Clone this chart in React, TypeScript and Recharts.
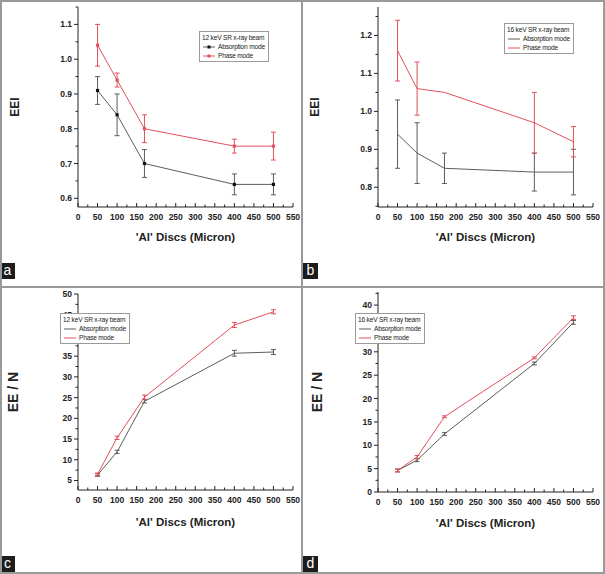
import { LineChart, Line, XAxis, YAxis, ErrorBar, Legend } from 'recharts';

// Al disc thickness (micron)
const discs = [50, 100, 170, 400, 500];

// (a) 12 keV EEI
const aAbs = [0.91, 0.84, 0.7, 0.64, 0.64];
const aAbsErr = [0.04, 0.06, 0.04, 0.03, 0.03];
const aPhase = [1.04, 0.94, 0.8, 0.75, 0.75];
const aPhaseErr = [0.06, 0.02, 0.04, 0.02, 0.04];

// (b) 16 keV EEI
const bAbs = [0.94, 0.89, 0.85, 0.84, 0.84];
const bAbsErr = [0.09, 0.08, 0.04, 0.05, 0.06];
const bPhase = [1.16, 1.06, 1.05, 0.97, 0.92];
const bPhaseErr = [0.08, 0.07, null, 0.08, 0.04];

// (c) 12 keV EE / N
const cAbs = [6.3, 11.9, 24.1, 35.7, 36.0];
const cAbsErr = [0.3, 0.4, 0.4, 0.7, 0.6];
const cPhase = [6.5, 15.3, 25.1, 42.5, 45.7];
const cPhaseErr = [0.3, 0.4, 0.5, 0.6, 0.5];

// (d) 16 keV EE / N
const dAbs = [4.6, 6.8, 12.4, 27.5, 36.3];
const dAbsErr = [0.3, 0.3, 0.3, 0.3, 0.4];
const dPhase = [4.6, 7.5, 16.1, 28.7, 37.3];
const dPhaseErr = [0.3, 0.3, 0.2, 0.2, 0.4];

const xTicks = [0, 25, 50, 75, 100, 125, 150, 175, 200, 225, 250, 275, 300, 325, 350, 375, 400, 425, 450, 475, 500, 525, 550];
const xLabels = [0, 50, 100, 150, 200, 250, 300, 350, 400, 450, 500, 550];

const aYTicks = [0.6, 0.65, 0.7, 0.75, 0.8, 0.85, 0.9, 0.95, 1.0, 1.05, 1.1, 1.15];
const aYLabels = [0.6, 0.7, 0.8, 0.9, 1.0, 1.1];
const bYTicks = [0.75, 0.8, 0.85, 0.9, 0.95, 1.0, 1.05, 1.1, 1.15, 1.2, 1.25];
const bYLabels = [0.8, 0.9, 1.0, 1.1, 1.2];
const cYTicks = [5, 7.5, 10, 12.5, 15, 17.5, 20, 22.5, 25, 27.5, 30, 32.5, 35, 37.5, 40, 42.5, 45, 47.5, 50];
const cYLabels = [5, 10, 15, 20, 25, 30, 35, 40, 45, 50];
const dYTicks = [0, 2.5, 5, 7.5, 10, 12.5, 15, 17.5, 20, 22.5, 25, 27.5, 30, 32.5, 35, 37.5, 40, 42.5];
const dYLabels = [0, 5, 10, 15, 20, 25, 30, 35, 40];

const FONT = 'Arial, "Liberation Sans", Helvetica, sans-serif';
const NARROW = '"Liberation Sans Narrow", "Liberation Sans", Arial, sans-serif';
const GRAY = '#5c5c5c';
const RED = '#e2505c';
const INK = '#222';

const build = (abs: number[], absErr: (number | null)[], ph: number[], phErr: (number | null)[]) =>
  discs.map((x, i) => ({ x, abs: abs[i], absErr: absErr[i], ph: ph[i], phErr: phErr[i] }));

const isIn = (list: number[], v: number) => list.some(l => Math.abs(l - v) < 1e-6);

const SquareDot = (color: string) => (props: any) => {
  const { cx, cy, index } = props;
  if (cx == null || cy == null) return <g key={index} />;
  return <rect key={index} x={cx - 1.6} y={cy - 1.6} width={3.2} height={3.2} fill={color} />;
};

interface PanelProps {
  data: any[];
  domain: [number, number];
  yTicks: number[];
  yLabels: number[];
  digits: number;
  yTitle: string;
  yTitleX: number;
  yTitleSize: number;
  beam: string;
  markers: boolean;
  margin: { top: number; right: number; bottom: number; left: number };
  legendPos: { left: number; top: number };
  width: number;
  height: number;
}

function Panel(p: PanelProps) {
  const XTick = ({ x, y, payload }: any) => {
    const major = isIn(xLabels, payload.value);
    return (
      <g>
        <line x1={x} x2={x} y1={y} y2={y - (major ? 4 : 2.5)} stroke={INK} />
        {major && (
          <text x={x} y={y + 13} textAnchor="middle" fontSize={8.5} fontWeight="bold" fontFamily={FONT} fill={INK}>
            {payload.value}
          </text>
        )}
      </g>
    );
  };
  const TopTick = ({ x, y, payload }: any) => {
    const major = isIn(xLabels, payload.value);
    return <line x1={x} x2={x} y1={y} y2={y + (major ? 4 : 2.5)} stroke={INK} />;
  };
  const YTick = ({ x, y, payload }: any) => {
    const major = isIn(p.yLabels, payload.value);
    return (
      <g>
        <line x1={x} x2={x - (major ? 4 : 2.5)} y1={y} y2={y} stroke={INK} />
        {major && (
          <text x={x - 6} y={y + 3} textAnchor="end" fontSize={8.5} fontWeight="bold" fontFamily={FONT} fill={INK}>
            {payload.value.toFixed(p.digits)}
          </text>
        )}
      </g>
    );
  };
  const RightTick = ({ x, y, payload }: any) => {
    const major = isIn(p.yLabels, payload.value);
    return <line x1={x} x2={x - (major ? 4 : 2.5)} y1={y} y2={y} stroke={INK} />;
  };

  const YTitle = (props: any) => {
    const vb = props.viewBox;
    const cy = vb.y + vb.height / 2;
    return (
      <text
        x={p.yTitleX}
        y={cy}
        transform={`rotate(-90 ${p.yTitleX} ${cy})`}
        textAnchor="middle"
        dominantBaseline="central"
        fontSize={p.yTitleSize}
        fontWeight="bold"
        fontFamily={FONT}
        fill={INK}
      >
        {p.yTitle}
      </text>
    );
  };

  const renderLegend = () => (
    <div
      style={{
        border: '1px solid #9a9a9a',
        background: '#fff',
        padding: '1px 3px 1px 2px',
        fontFamily: NARROW,
        fontSize: 6.6,
        letterSpacing: '-0.2px',
        lineHeight: '9px',
        color: INK,
        whiteSpace: 'nowrap',
      }}
    >
      <div>{p.beam}</div>
      {[
        { name: 'Absorption mode', color: GRAY },
        { name: 'Phase mode', color: RED },
      ].map(r => (
        <div key={r.name} style={{ display: 'flex', alignItems: 'center', height: 9 }}>
          <svg width={14} height={6} style={{ marginRight: 2 }}>
            <line x1={1} x2={13} y1={3} y2={3} stroke={r.color} strokeWidth={1} />
            {p.markers && <rect x={5.5} y={1.5} width={3} height={3} fill={r.name === 'Phase mode' ? RED : '#111'} />}
          </svg>
          <span>{r.name}</span>
        </div>
      ))}
    </div>
  );

  return (
    <LineChart width={p.width} height={p.height} data={p.data} margin={p.margin}>
      <XAxis
        dataKey="x"
        type="number"
        domain={[0, 550]}
        ticks={xTicks}
        interval={0}
        height={p.margin.bottom}
        tickSize={0}
        tickMargin={0}
        tickLine={false}
        axisLine={{ stroke: INK }}
        tick={<XTick />}
        label={{
          value: "'Al' Discs (Micron)",
          position: 'insideBottom',
          offset: 6,
          fontSize: 11.5,
          fontWeight: 'bold',
          fontFamily: FONT,
          fill: INK,
        }}
      />
      <XAxis
        xAxisId="top"
        orientation="top"
        dataKey="x"
        type="number"
        domain={[0, 550]}
        ticks={xTicks}
        interval={0}
        height={0}
        tickSize={0}
        tickMargin={0}
        tickLine={false}
        axisLine={{ stroke: INK }}
        tick={<TopTick />}
      />
      <YAxis
        type="number"
        domain={p.domain}
        ticks={p.yTicks}
        interval={0}
        allowDataOverflow
        width={p.margin.left}
        tickSize={0}
        tickMargin={0}
        tickLine={false}
        axisLine={{ stroke: INK }}
        tick={<YTick />}
        label={{ content: <YTitle /> }}
      />
      <YAxis
        yAxisId="right"
        orientation="right"
        type="number"
        domain={p.domain}
        ticks={p.yTicks}
        interval={0}
        allowDataOverflow
        width={0}
        tickSize={0}
        tickMargin={0}
        tickLine={false}
        axisLine={{ stroke: INK }}
        tick={<RightTick />}
      />
      <Legend
        layout="horizontal"
        verticalAlign="middle"
        align="center"
        content={renderLegend}
        wrapperStyle={{ position: 'absolute', left: p.legendPos.left, top: p.legendPos.top, width: 'auto' }}
      />
      <Line
        dataKey="abs"
        stroke={GRAY}
        strokeWidth={1}
        dot={p.markers ? SquareDot('#111') : false}
        activeDot={false}
        isAnimationActive={false}
      >
        <ErrorBar dataKey="absErr" width={2.5} stroke={GRAY} strokeWidth={1} direction="y" isAnimationActive={false} />
      </Line>
      <Line
        dataKey="ph"
        stroke={RED}
        strokeWidth={1}
        dot={p.markers ? SquareDot(RED) : false}
        activeDot={false}
        isAnimationActive={false}
      >
        <ErrorBar dataKey="phErr" width={2.5} stroke={RED} strokeWidth={1} direction="y" isAnimationActive={false} />
      </Line>
    </LineChart>
  );
}

const Tag = ({ letter, left, top }: { letter: string; left: number; top: number }) => (
  <div
    style={{
      position: 'absolute',
      left,
      top,
      width: 15,
      height: 16,
      background: '#1c1c1c',
      color: '#fff',
      fontFamily: FONT,
      fontSize: 14,
      lineHeight: '15px',
      textAlign: 'center',
    }}
  >
    {letter}
  </div>
);

export default function App() {
  const pos = (left: number, top: number): React.CSSProperties => ({ position: 'absolute', left, top });
  return (
    <div style={{ position: 'absolute', left: 0, top: 0, width: 605, height: 574, background: '#fff', overflow: 'hidden' }}>
      <div style={pos(0, 0)}>
        <Panel
          data={build(aAbs, aAbsErr, aPhase, aPhaseErr)}
          domain={[0.575, 1.15]}
          yTicks={aYTicks}
          yLabels={aYLabels}
          digits={1}
          yTitle="EEI"
          yTitleX={15}
          yTitleSize={12}
          beam="12 keV SR x-ray beam"
          markers
          margin={{ top: 7, right: 9, bottom: 40, left: 39 }}
          legendPos={{ left: 199, top: 31 }}
          width={302}
          height={287}
        />
      </div>
      <div style={pos(300, 0)}>
        <Panel
          data={build(bAbs, bAbsErr, bPhase, bPhaseErr)}
          domain={[0.748, 1.275]}
          yTicks={bYTicks}
          yLabels={bYLabels}
          digits={1}
          yTitle="EEI"
          yTitleX={15}
          yTitleSize={12}
          beam="16 keV SR x-ray beam"
          markers={false}
          margin={{ top: 7, right: 12, bottom: 40, left: 39 }}
          legendPos={{ left: 204, top: 23 }}
          width={305}
          height={287}
        />
      </div>
      <div style={pos(0, 285)}>
        <Panel
          data={build(cAbs, cAbsErr, cPhase, cPhaseErr)}
          domain={[2.7, 50]}
          yTicks={cYTicks}
          yLabels={cYLabels}
          digits={0}
          yTitle="EE / N"
          yTitleX={13}
          yTitleSize={14}
          beam="12 keV SR x-ray beam"
          markers={false}
          margin={{ top: 9, right: 9, bottom: 42, left: 39 }}
          legendPos={{ left: 60, top: 28 }}
          width={302}
          height={289}
        />
      </div>
      <div style={pos(300, 285)}>
        <Panel
          data={build(dAbs, dAbsErr, dPhase, dPhaseErr)}
          domain={[0, 42.8]}
          yTicks={dYTicks}
          yLabels={dYLabels}
          digits={0}
          yTitle="EE / N"
          yTitleX={17}
          yTitleSize={14}
          beam="16 keV SR x-ray beam"
          markers={false}
          margin={{ top: 7, right: 12, bottom: 41, left: 39 }}
          legendPos={{ left: 55, top: 28 }}
          width={305}
          height={289}
        />
      </div>
      <Tag letter="a" left={0} top={263} />
      <Tag letter="b" left={303} top={263} />
      <Tag letter="c" left={0} top={556} />
      <Tag letter="d" left={303} top={556} />
      <div style={{ position: 'absolute', left: 0, top: 0, width: 605, height: 574, border: '2px solid #9a9a9a', boxSizing: 'border-box' }} />
      <div style={{ position: 'absolute', left: 301, top: 0, width: 2, height: 574, background: '#9a9a9a' }} />
      <div style={{ position: 'absolute', left: 0, top: 286, width: 605, height: 2, background: '#9a9a9a' }} />
    </div>
  );
}
